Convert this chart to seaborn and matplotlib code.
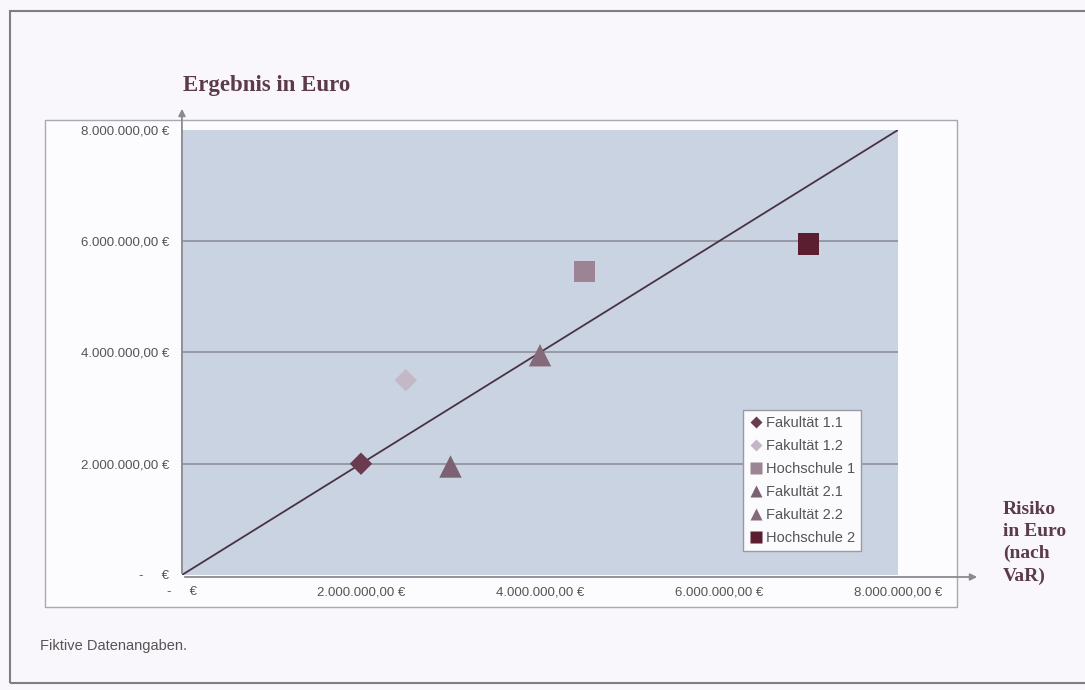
import pandas as pd
import seaborn as sns
import matplotlib.pyplot as plt
from matplotlib.patches import Rectangle

# data
names = ['Fakultät 1.1', 'Fakultät 1.2', 'Hochschule 1', 'Fakultät 2.1', 'Fakultät 2.2', 'Hochschule 2']
risk = [2.0e6, 2.5e6, 4.5e6, 3.0e6, 4.0e6, 7.0e6]
result = [2.0e6, 3.5e6, 5.45e6, 1.95e6, 3.95e6, 5.95e6]
diag = [0, 8.0e6]
ticks = [0, 2.0e6, 4.0e6, 6.0e6, 8.0e6]

colors = {'Fakultät 1.1': '#6a3a4e', 'Fakultät 1.2': '#c3b8c6', 'Hochschule 1': '#9c8494',
          'Fakultät 2.1': '#7b6172', 'Fakultät 2.2': '#86697a', 'Hochschule 2': '#5a1e30'}
markers = {'Fakultät 1.1': 'D', 'Fakultät 1.2': 'D', 'Hochschule 1': 's',
           'Fakultät 2.1': '^', 'Fakultät 2.2': '^', 'Hochschule 2': 's'}
msizes = {'Fakultät 1.1': 130, 'Fakultät 1.2': 130, 'Hochschule 1': 230,
          'Fakultät 2.1': 260, 'Fakultät 2.2': 260, 'Hochschule 2': 230}

df = pd.DataFrame({'Name': names, 'Risiko': risk, 'Ergebnis': result})

sns.set_style('white')
plt.rcParams['font.family'] = ['Liberation Sans', 'DejaVu Sans']

fig = plt.figure(figsize=(10.85, 6.9), dpi=100)
fig.patch.set_facecolor('#f9f7fb')

# outer frame and chart area box (behind the axes)
fig.patches.append(Rectangle((0.0092, 0.0101), 1.02, 0.974, transform=fig.transFigure,
                             fill=False, edgecolor='#7d7d85', lw=1.5, zorder=-2))
fig.patches.append(Rectangle((0.0415, 0.1203), 0.8406, 0.7058, transform=fig.transFigure,
                             facecolor='#fcfbfd', edgecolor='#a9a9b0', lw=1, zorder=-1))

ax = fig.add_axes([0.1677, 0.1667, 0.66, 0.645])
ax.set_facecolor('#cad3e2')

def euro(v):
    if v == 0:
        return '-     €'
    s = f'{v:,.2f}'.replace(',', 'X').replace('.', ',').replace('X', '.')
    return s + ' €'

ax.plot(diag, diag, color='#4b3242', lw=1.3, zorder=2)
sns.scatterplot(data=df, x='Risiko', y='Ergebnis', hue='Name', style='Name', size='Name',
                palette=colors, markers=markers, sizes=msizes, edgecolor='none', ax=ax, zorder=3)

ax.set_xlim(0, 8.0e6)
ax.set_ylim(0, 8.0e6)
ax.set_xticks(ticks)
ax.set_yticks(ticks)
ax.set_xticklabels([euro(t) for t in ticks])
ax.set_yticklabels([euro(t) for t in ticks])
ax.tick_params(axis='both', length=0, labelsize=9.5, labelcolor='#555555')
ax.tick_params(axis='y', pad=9)
ax.tick_params(axis='x', pad=8)
ax.set_xlabel('')
ax.set_ylabel('')
for sp in ax.spines.values():
    sp.set_visible(False)

ax.yaxis.grid(True, color='#8a8a95', lw=1.1)
gl = ax.get_ygridlines()
gl[0].set_visible(False)
gl[-1].set_visible(False)

# axis arrows
ax.annotate('', xy=(0.1677, 1 - 106 / 690), xytext=(0.1677, 1 - 576 / 690),
            xycoords='figure fraction', textcoords='figure fraction',
            arrowprops=dict(arrowstyle='-|>', color='#8a8a92', lw=1.3, mutation_scale=10),
            annotation_clip=False)
ax.annotate('', xy=(980 / 1085, 1 - 577 / 690), xytext=(0.1677, 1 - 577 / 690),
            xycoords='figure fraction', textcoords='figure fraction',
            arrowprops=dict(arrowstyle='-|>', color='#8a8a92', lw=1.3, mutation_scale=10),
            annotation_clip=False)

fig.text(183 / 1085, 1 - 86 / 690, 'Ergebnis in Euro', ha='left', va='center',
         family=['Liberation Serif', 'DejaVu Serif'], weight='bold', fontsize=16.5, color='#5b3a4c')
fig.text(1003 / 1085, 1 - 543 / 690, 'Risiko\nin Euro\n(nach\nVaR)', ha='left', va='center',
         family=['Liberation Serif', 'DejaVu Serif'], weight='bold', fontsize=14, color='#5b3a4c',
         linespacing=1.38)
fig.text(40 / 1085, 1 - 646 / 690, 'Fiktive Datenangaben.', ha='left', va='center',
         fontsize=10.5, color='#555555')

leg = ax.legend(loc='upper left', bbox_to_anchor=(0.783, 0.371), frameon=True, fancybox=False,
                fontsize=10.5, markerscale=0.55, handletextpad=0.2, handlelength=1.0,
                borderpad=0.4, labelspacing=0.62, borderaxespad=0)
leg.get_frame().set_edgecolor('#9a9aa2')
leg.get_frame().set_facecolor('#fbfafc')
leg.get_frame().set_alpha(1)
for t in leg.get_texts():
    t.set_color('#555555')

fig.savefig('out.png', dpi=100, facecolor=fig.get_facecolor())
